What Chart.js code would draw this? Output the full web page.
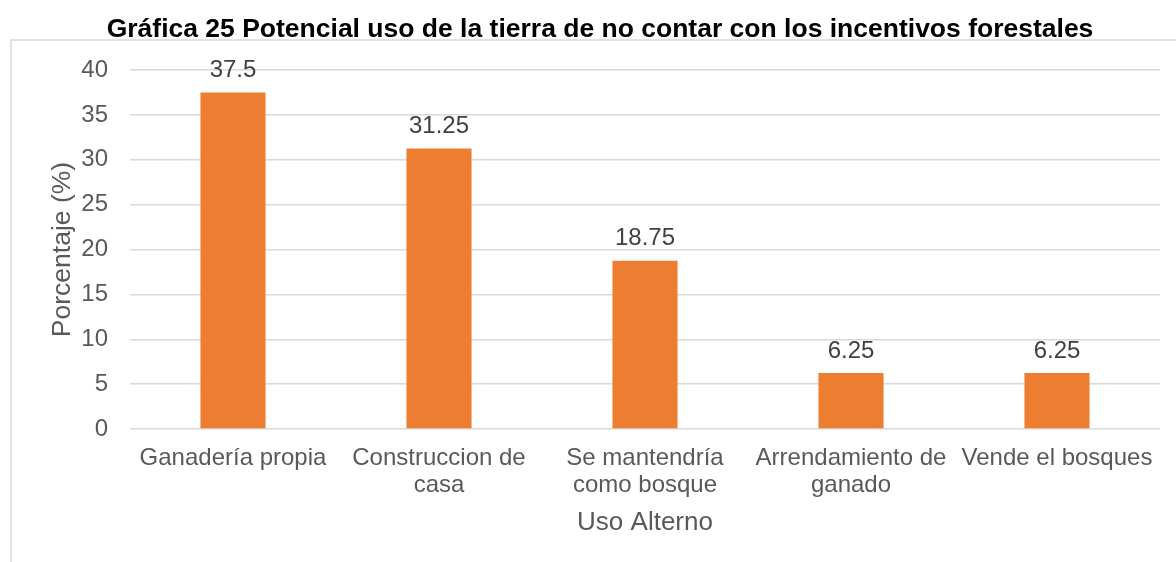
<!DOCTYPE html>
<html>
<head>
<meta charset="utf-8">
<script src="https://cdn.jsdelivr.net/npm/chart.js@4"></script>
<style>
  html, body { margin: 0; padding: 0; background: #fff; }
  #wrap { width: 1176px; height: 562px; }
</style>
</head>
<body>
<div id="wrap"><canvas id="grafico" width="1176" height="562"></canvas></div>
<script>
// datos de la gráfica
const categorias = [
    'Ganadería propia',
    ['Construccion de', 'casa'],
    ['Se mantendría', 'como bosque'],
    ['Arrendamiento de', 'ganado'],
    'Vende el bosques'
];
const porcentajes = [37.5, 31.25, 18.75, 6.25, 6.25];
const titulo = 'Gráfica 25 Potencial uso de la tierra de no contar con los incentivos forestales';
const tituloY = 'Porcentaje (%)';
const tituloX = 'Uso Alterno';

const fuente = "'Liberation Sans', Arial, sans-serif";

// marco gris a la izquierda y arriba
const marco = {
    id: 'marco',
    beforeDraw(chart) {
        const ctx = chart.ctx;
        ctx.save();
        ctx.strokeStyle = '#d9d9d9';
        ctx.lineWidth = 1.5;
        ctx.beginPath();
        ctx.moveTo(11, 562);
        ctx.lineTo(11, 40);
        ctx.lineTo(1176, 40);
        ctx.stroke();
        ctx.restore();
    }
};

// etiquetas con el valor encima de cada barra
const etiquetas = {
    id: 'etiquetas',
    afterDatasetsDraw(chart) {
        const ctx = chart.ctx;
        const meta = chart.getDatasetMeta(0);
        ctx.save();
        ctx.font = '24px ' + fuente;
        ctx.fillStyle = '#404040';
        ctx.textAlign = 'center';
        ctx.textBaseline = 'middle';
        meta.data.forEach(function(barra, i) {
            ctx.fillText(String(porcentajes[i]), barra.x, barra.y - 22);
        });
        ctx.restore();
    }
};

new Chart(document.getElementById('grafico'), {
    type: 'bar',
    data: {
        labels: categorias,
        datasets: [{
            data: porcentajes,
            backgroundColor: '#ED7D31',
            borderWidth: 0,
            barPercentage: 0.316,
            categoryPercentage: 1
        }]
    },
    options: {
        responsive: false,
        animation: false,
        layout: { padding: { left: 40, right: 16, top: 0, bottom: 0 } },
        plugins: {
            legend: { display: false },
            tooltip: { enabled: false },
            title: {
                display: true,
                text: titulo,
                color: '#000',
                font: { family: fuente, size: 26.5, weight: 'bold', lineHeight: 1.2 },
                padding: { top: 14, bottom: 24.2 }
            }
        },
        scales: {
            x: {
                grid: { display: false },
                border: { display: false },
                ticks: {
                    color: '#595959',
                    font: { family: fuente, size: 24, lineHeight: 1.13 },
                    padding: 8,
                    maxRotation: 0,
                    autoSkip: false
                },
                title: {
                    display: true,
                    text: tituloX,
                    color: '#595959',
                    font: { family: fuente, size: 26, lineHeight: 1 },
                    padding: { top: 0, bottom: 26 }
                },
                afterFit(scale) { scale.height = 133; }
            },
            y: {
                min: 0,
                max: 40,
                ticks: {
                    stepSize: 5,
                    color: '#595959',
                    font: { family: fuente, size: 24 },
                    padding: 22
                },
                grid: { color: '#d9d9d9', lineWidth: 1.5, drawTicks: false },
                border: { display: false },
                title: {
                    display: true,
                    text: tituloY,
                    color: '#595959',
                    font: { family: fuente, size: 26.5, lineHeight: 1 },
                    padding: { top: 9, bottom: 0 }
                },
                afterFit(scale) { scale.width = 90; }
            }
        }
    },
    plugins: [marco, etiquetas]
});
</script>
</body>
</html>
